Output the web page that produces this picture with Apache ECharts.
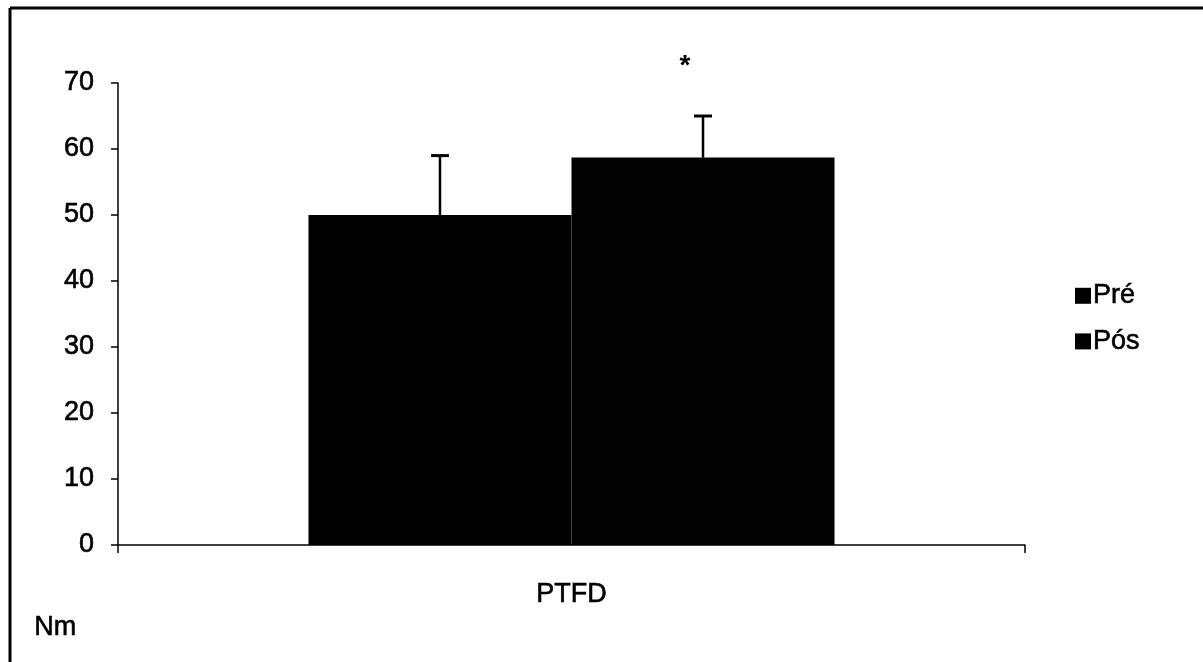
<!DOCTYPE html>
<html>
<head>
<meta charset="utf-8">
<script src="https://cdn.jsdelivr.net/npm/echarts@6/dist/echarts.min.js"></script>
<style>
  html, body { margin: 0; padding: 0; background: #fff; }
  #chart { width: 1203px; height: 662px; }
</style>
</head>
<body>
<div id="chart"></div>
<script>
// Peak torque (Nm) before and after training
const categories = ['PTFD'];
const seriesNames = ['Pré', 'Pós'];
const preValues = [50];
const posValues = [58.7];
const preErrors = [9];
const posErrors = [6.3];
const significance = ['', '*'];
const yTicks = { min: 0, max: 70, interval: 10 };

const FONT = '"Liberation Sans", Arial, sans-serif';
const FONT_SIZE = 27;
const CATEGORY_GAP = 0.42;
// slightly heavier text strokes
const INK = { color: '#000', fontSize: FONT_SIZE, fontFamily: FONT, textBorderColor: '#000', textBorderWidth: 0.6 };

const chart = echarts.init(document.getElementById('chart'));

// Upward-only error whiskers with caps, placed over each bar of the pair
function errorSeries(values, errors, seriesIndex, mark) {
  return {
    type: 'custom',
    name: seriesNames[seriesIndex] + ' SD',
    data: values.map((v, i) => [i, v, v + errors[i]]),
    z: 5,
    renderItem: function (params, api) {
      const cat = api.value(0);
      const base = api.coord([cat, api.value(1)]);
      const top = api.coord([cat, api.value(2)]);
      const bandWidth = api.size([1, 0])[0];
      const barWidth = bandWidth * (1 - CATEGORY_GAP) / 2;
      const x = base[0] + (seriesIndex === 0 ? -barWidth / 2 : barWidth / 2);
      const children = [
        { type: 'line', shape: { x1: x, y1: base[1], x2: x, y2: top[1] },
          style: { stroke: '#000', lineWidth: 2.5 } },
        { type: 'line', shape: { x1: x - 9, y1: top[1], x2: x + 9, y2: top[1] },
          style: { stroke: '#000', lineWidth: 3 } }
      ];
      if (mark) {
        children.push({ type: 'text', x: x - 18, y: top[1] - 50,
          style: { text: mark, font: 'bold 28px ' + FONT, fill: '#000',
                   align: 'center', verticalAlign: 'middle' } });
      }
      return { type: 'group', children: children };
    }
  };
}

chart.setOption({
  animation: false,
  backgroundColor: '#fff',
  textStyle: { fontFamily: FONT },
  grid: { left: 118, right: 178, top: 83, bottom: 117 },
  legend: {
    orient: 'vertical',
    left: 1070,
    top: 277,
    itemWidth: 16,
    itemHeight: 16,
    itemGap: 18,
    icon: 'rect',
    data: seriesNames,
    textStyle: Object.assign({}, INK, { padding: [0, 0, 0, -3] })
  },
  xAxis: {
    type: 'category',
    data: categories,
    axisLine: { lineStyle: { color: '#000', width: 1.5 } },
    axisTick: { show: true, length: 8, lineStyle: { color: '#000', width: 1.5 } },
    axisLabel: Object.assign({}, INK, { margin: 36 })
  },
  yAxis: {
    type: 'value',
    min: yTicks.min,
    max: yTicks.max,
    interval: yTicks.interval,
    splitLine: { show: false },
    axisLine: { show: true, lineStyle: { color: '#000', width: 1.5 } },
    axisTick: { show: true, length: 7, lineStyle: { color: '#000', width: 1.5 } },
    axisLabel: Object.assign({}, INK, { margin: 24 })
  },
  series: [
    { type: 'bar', name: seriesNames[0], data: preValues, barGap: '0%',
      barCategoryGap: (CATEGORY_GAP * 100) + '%', itemStyle: { color: '#000' } },
    { type: 'bar', name: seriesNames[1], data: posValues, barGap: '0%',
      barCategoryGap: (CATEGORY_GAP * 100) + '%', itemStyle: { color: '#020202' } },
    errorSeries(preValues, preErrors, 0, significance[0]),
    errorSeries(posValues, posErrors, 1, significance[1])
  ],
  graphic: [
    // frame: top and left edges
    { type: 'line', shape: { x1: 10, y1: 8, x2: 1203, y2: 8 },
      style: { stroke: '#000', lineWidth: 3 } },
    { type: 'line', shape: { x1: 10, y1: 8, x2: 10, y2: 662 },
      style: { stroke: '#000', lineWidth: 3 } },
    { type: 'text', left: 34, top: 614,
      style: { text: 'Nm', font: FONT_SIZE + 'px ' + FONT, fill: '#000', stroke: '#000', lineWidth: 0.6 } }
  ]
});
</script>
</body>
</html>
